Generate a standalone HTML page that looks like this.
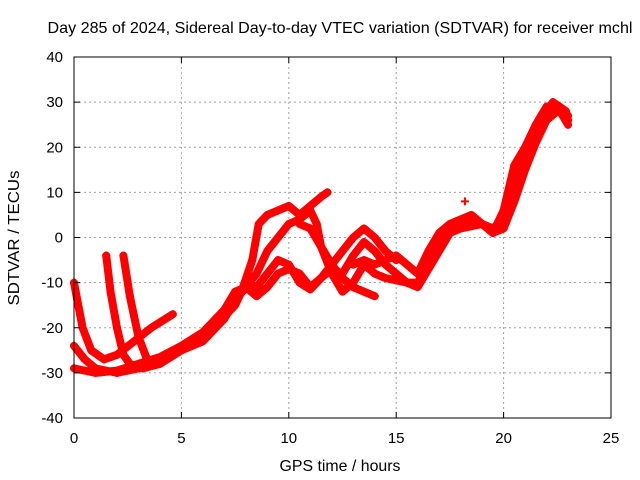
<!DOCTYPE html>
<html><head><meta charset="utf-8">
<style>body{margin:0;background:#fff}svg{display:block;font-family:"Liberation Sans",sans-serif}</style>
</head><body>
<svg id="chart" width="640" height="480">
<rect width="640" height="480" fill="#fff"/>
<text x="340" y="33" font-size="16" text-anchor="middle" textLength="585" lengthAdjust="spacingAndGlyphs">Day 285 of 2024, Sidereal Day-to-day VTEC variation (SDTVAR) for receiver mchl</text>
<text x="340" y="471" font-size="16" text-anchor="middle" textLength="121" lengthAdjust="spacingAndGlyphs">GPS time / hours</text>
<text transform="translate(19,238) rotate(-90)" font-size="16" text-anchor="middle" textLength="135" lengthAdjust="spacingAndGlyphs">SDTVAR / TECUs</text>
<g id="grid"></g><g id="marks"></g>
<rect x="74" y="57" width="537" height="361" fill="none" stroke="#000"/>
<g id="ticks"></g>
</svg>
<script>
const xTicks=[0,5,10,15,20,25];
const yTicks=[-40,-30,-20,-10,0,10,20,30,40];
const t1=[[0,-10],[0.4,-20],[0.8,-25],[1.4,-27],[2,-26],[2.8,-23],[3.6,-20],[4.6,-17]];
const t2=[[1.5,-4],[1.7,-12],[2,-20],[2.3,-26],[2.6,-28],[3.2,-29],[4,-28],[5,-25],[6,-22],[7,-17],[7.8,-12],[8.3,-5],[8.6,3],[9,5],[9.5,6],[10,7],[10.5,5],[11,7],[11.5,9],[11.8,10]];
const t3=[[2.3,-4],[2.6,-13],[3,-22],[3.4,-27],[3.8,-28]];
const t4=[[0,-24],[0.5,-27],[1,-29],[2,-30],[3,-29],[4,-27],[5,-25],[6,-23],[7,-18],[7.5,-14],[8,-11],[8.5,-8],[9,-3],[9.5,0],[10,3],[10.5,4],[11,6],[11.3,3],[11.5,-2],[12,-6],[12.5,-9],[13,-11],[13.5,-12],[14,-13]];
const t5=[[0,-29],[1,-30],[2,-29.5],[3,-28],[4,-26.5],[5,-24],[6,-21],[7,-16],[7.5,-12],[8,-11],[8.5,-13],[9,-11],[9.5,-8],[10,-7],[10.5,-8],[11,-11],[11.5,-9],[12,-6],[12.5,-3],[13,0],[13.5,2],[14,0],[14.5,-3],[15,-5]];
const t6=[[6.5,-20],[7.5,-15],[8,-10],[8.5,-11],[9,-8],[9.5,-5],[10,-6],[10.5,-10],[11,-11.5],[11.5,-9],[12,-7],[12.5,-8],[13,-4],[13.5,-1],[14,-3],[14.5,-6],[15,-8],[15.5,-10],[16,-10],[16.5,-6],[17,-2],[17.5,2],[18,3],[18.5,4],[19,3],[19.5,2],[20,4],[20.5,12],[21,18],[21.5,24],[22,28],[22.3,30],[22.6,29],[22.9,28],[23,26]];
const t7=[[10.5,3],[11,2],[11.5,-2],[12,-8],[12.5,-12],[13,-10],[13.5,-6],[14,-8],[14.5,-9],[15,-9.5],[15.5,-10],[16,-11],[16.5,-7],[17,-3],[17.5,1],[18,2],[18.5,2.5],[19,3],[19.5,1],[20,2],[20.5,8],[21,15],[21.5,21],[22,26],[22.5,28],[23,27]];
const t8=[[13,-6],[13.5,-5],[14,-6],[14.5,-5],[15,-4],[15.5,-6],[16,-8],[16.5,-3],[17,1],[17.5,3],[18,4],[18.5,5],[19,3],[19.5,1],[20,6],[20.5,16],[21,20],[21.5,25],[22,29],[22.5,29],[23,25]];
const outliers=[[18.2,8]];
const tracks=[t1,t2,t3,t4,t5,t6,t7,t8];
const NS='http://www.w3.org/2000/svg';
const X=v=>74+v*(537/25), Y=v=>237.5-v*(361/80);
const grid=document.getElementById('grid'),ticks=document.getElementById('ticks'),marks=document.getElementById('marks');
function mk(tag,a,p){const e=document.createElementNS(NS,tag);for(const k in a)e.setAttribute(k,a[k]);p.appendChild(e);return e;}
xTicks.forEach(t=>{const x=X(t);
 if(t>0&&t<25){const g=mk('line',{x1:x,x2:x,y1:57,y2:418,stroke:'#a0a0a0','stroke-dasharray':'2,3'},grid);
 
 }
 mk('line',{x1:x,x2:x,y1:418,y2:412,stroke:'#000'},ticks);mk('line',{x1:x,x2:x,y1:57,y2:63,stroke:'#000'},ticks);
 const l=mk('text',{x:x,y:443,'font-size':15,'text-anchor':'middle'},ticks);l.textContent=t;
 
 });
yTicks.forEach(t=>{const y=Y(t);
 if(t>-40&&t<40){const g=mk('line',{x1:74,x2:611,y1:y,y2:y,stroke:'#a0a0a0','stroke-dasharray':'2,3'},grid);
 
 }
 mk('line',{x1:74,x2:80,y1:y,y2:y,stroke:'#000'},ticks);mk('line',{x1:611,x2:605,y1:y,y2:y,stroke:'#000'},ticks);
 const l=mk('text',{x:63,y:y+5,'font-size':15,'text-anchor':'end'},ticks);l.textContent=t;
 
 });
function plus(x,y){mk('path',{d:`M${x-4},${y}h8M${x},${y-4}v8`,stroke:'#f00','stroke-width':2},marks);}
tracks.forEach((tr,i)=>{
 const p=mk('polyline',{points:tr.map(d=>X(d[0])+','+Y(d[1])).join(' '),fill:'none',stroke:'#f00','stroke-width':8,'stroke-linejoin':'round','stroke-linecap':'round'},marks);
 
 
 tr.forEach(d=>plus(X(d[0]),Y(d[1])));});
outliers.forEach(d=>plus(X(d[0]),Y(d[1])));
</script>
</body></html>
